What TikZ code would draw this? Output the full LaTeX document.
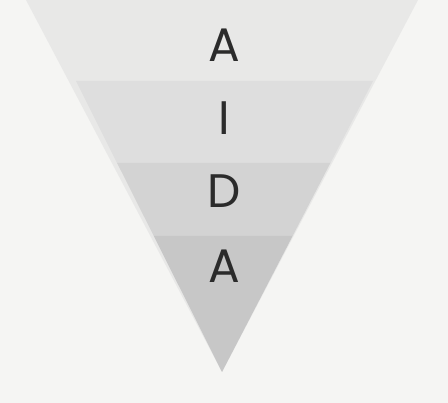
\documentclass[tikz,border=0pt]{standalone}
\usepackage{fontspec}
\setmainfont{Poppins}
\usepackage{xcolor}
\usepackage{tikz}
\usetikzlibrary{positioning}
\definecolor{cBack}{RGB}{245,245,243}
\definecolor{cOuter}{RGB}{232,232,231}
\definecolor{cBandB}{RGB}{222,222,222}
\definecolor{cBandC}{RGB}{211,211,211}
\definecolor{cBandD}{RGB}{199,199,199}
\definecolor{cText}{RGB}{43,43,43}
\tikzset{
  letter/.style={anchor=base, inner sep=0pt, text=cText,
                 font=\fontsize{47}{47}\selectfont},
}

\begin{document}
\begin{tikzpicture}[x=1pt, y=-1pt]
  \fill[cBack] (0,0) rectangle (448,403);
  \useasboundingbox (0,0) rectangle (448,403);
  % funnel body and bands
  \fill[cOuter] (26,0) -- (418,0) -- (222,372) -- cycle;
  \fill[cBandB] (76,81) -- (373,81) -- (330.4,163) -- (117.1,163) -- cycle;
  \fill[cBandC] (117.1,163) -- (330.4,163) -- (292.6,236) -- (153.8,236) -- cycle;
  \fill[cBandD] (153.8,236) -- (292.6,236) -- (222,372) -- cycle;
  % letters
  \node[letter] (attention) at (224,62) {A};
  \node[letter] (interest) at (224,135) {I};
  \node[letter] (desire) at (224,208) {D};
  \node[letter] (action) at (224,283) {A};
\end{tikzpicture}
\end{document}
